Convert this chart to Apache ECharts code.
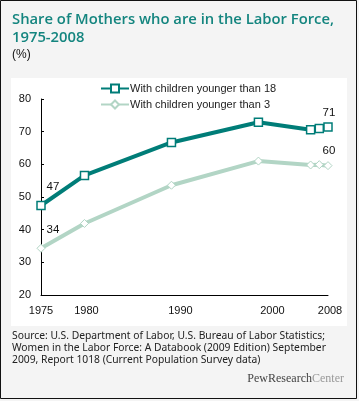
<!DOCTYPE html>
<html><head><meta charset="utf-8">
<script src="https://cdn.jsdelivr.net/npm/echarts@6/dist/echarts.min.js"></script>
<style>html,body{margin:0;padding:0;background:#fff}#c{width:359px;height:401px}</style>
</head><body><div id="c"></div>
<script>
const years = [1975, 1980, 1990, 2000, 2006, 2007, 2008];
const under18 = [47.4, 56.6, 66.7, 72.9, 70.6, 71.0, 71.4];
const under3 = [34.3, 41.9, 53.6, 61.0, 59.8, 59.9, 59.6];
const seriesNames = ['With children younger than 18', 'With children younger than 3'];
const xTicks = [1975, 1980, 1990, 2000, 2008];
const firstLabels = ['47', '34'];
const lastLabels = ['71', '60'];
const teal = '#007d78', light = '#b2d5c5';

function build(vals, k) {
  return vals.map((v, i) => {
    const item = {value: [years[i], v]};
    if (i === 0 || i === vals.length - 1) {
      item.label = {show: true, formatter: i === 0 ? firstLabels[k] : lastLabels[k], position: 'top',
        offset: i === 0 ? [12, -3] : [1, 1], color: '#111', fontSize: 11.5,
        fontFamily: 'Liberation Sans'};
    }
    return item;
  });
}
const shiftRich = {
  s0: {padding: [0, 0, 0, 0]},
  s2: {padding: [0, 0, 0, 4]},
  s9: {padding: [0, 0, 0, 18]},
  s14: {padding: [0, 0, 0, 28]}
};
const shiftOf = {1975: 's0', 1980: 's2', 1990: 's9', 2000: 's14', 2008: 's2'};
const chart = echarts.init(document.getElementById('c'), null, {renderer: 'canvas'});
chart.setOption({
  backgroundColor: '#f4f4f4',
  animation: false,
  graphic: [
    {type: 'rect', shape: {x: 0.5, y: 0.5, width: 356, height: 398}, style: {fill: 'none', stroke: '#111', lineWidth: 1}, z: 0},
    {type: 'rect', shape: {x: 11, y: 78, width: 336, height: 248}, style: {fill: '#fff'}, z: -1},
    {type: 'text', left: 12, top: 11, style: {text: 'Share of Mothers who are in the Labor Force,\n1975-2008', fill: '#14857f', font: '600 14.8px "Open Sans"', lineHeight: 18}},
    {type: 'text', left: 12, top: 49, style: {text: '(%)', fill: '#111', font: '12px "Liberation Sans"'}},
    {type: 'text', left: 12, top: 330, style: {text: 'Source: U.S. Department of Labor, U.S. Bureau of Labor Statistics;\nWomen in the Labor Force: A Databook (2009 Edition) September\n2009, Report 1018 (Current Population Survey data)', fill: '#222', font: '10.3px "Noto Sans"', lineHeight: 12}},
    {type: 'text', right: 15, top: 373, style: {text: '{a|PewResearch}{b|Center}', rich: {a: {fill: '#444', font: '12px "Liberation Serif"'}, b: {fill: '#999', font: '12px "Liberation Serif"'}}}}
  ],
  legend: {
    orient: 'vertical', left: 95, top: 78, itemWidth: 28, itemHeight: 10, itemGap: 5,
    data: seriesNames,
    textStyle: {color: '#222', fontSize: 11, fontFamily: 'Liberation Sans', padding: [0, 0, 0, -4]}
  },
  grid: {left: 41, right: 31, top: 99, bottom: 106},
  xAxis: {
    type: 'value', min: 1975, max: 2008,
    axisLine: {lineStyle: {color: '#000', width: 1}},
    axisTick: {show: false},
    splitLine: {show: false},
    axisLabel: {customValues: xTicks, margin: 10, color: '#111', fontSize: 11, fontFamily: 'Liberation Sans',
      formatter: v => '{' + shiftOf[v] + '|' + v + '}',
      rich: shiftRich
    }
  },
  yAxis: {
    type: 'value', min: 20, max: 80, interval: 10,
    axisLine: {show: true, lineStyle: {color: '#000', width: 1}},
    axisTick: {show: true, inside: true, length: 3, lineStyle: {color: '#000'}},
    splitLine: {show: false},
    axisLabel: {color: '#111', fontSize: 11, fontFamily: 'Liberation Sans', margin: 10}
  },
  series: [
    {name: seriesNames[0], type: 'line', data: build(under18, 0), symbol: 'rect', symbolSize: 8,
      lineStyle: {color: teal, width: 4}, itemStyle: {color: '#fff', borderColor: teal, borderWidth: 1.5}, z: 3},
    {name: seriesNames[1], type: 'line', data: build(under3, 1), symbol: 'diamond', symbolSize: 8,
      lineStyle: {color: light, width: 4}, itemStyle: {color: '#fff', borderColor: light, borderWidth: 1}, z: 2}
  ]
});
</script></body></html>
